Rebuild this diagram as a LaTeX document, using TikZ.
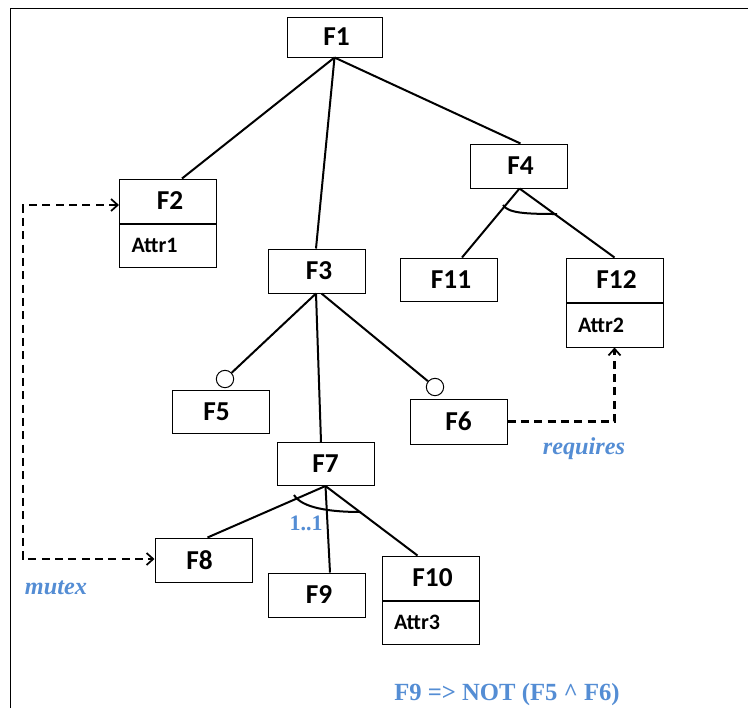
\documentclass[tikz,border=0pt]{standalone}
\usepackage{fontspec}
\setmainfont{Carlito}
\newfontfamily\tnr{Liberation Serif}
\usetikzlibrary{arrows.meta,calc}
\definecolor{lblue}{HTML}{548DD4}
\begin{document}
\begin{tikzpicture}[x=0.75pt,y=-0.75pt,
  feat/.style={draw,line width=0.75pt,minimum width=72.75pt,minimum height=33pt,inner sep=0pt,font=\fontsize{20.5}{21}\selectfont\bfseries},
  attr/.style={draw,line width=0.75pt,minimum width=72.75pt,minimum height=32.5pt,inner sep=0pt,text width=54.75pt,align=left,font=\fontsize{16.5}{17}\selectfont\bfseries,anchor=north},
  edge/.style={line width=1.5pt},
  dep/.style={line width=1.8pt,dash pattern=on 6pt off 4pt},
  barb/.tip={Straight Barb[length=5pt,width=9pt,line width=1.3pt]},
  lbl/.style={text=lblue,font=\tnr\fontsize{18.2}{20}\selectfont\bfseries\itshape,anchor=base,inner sep=0pt},
  opt/.style={circle,draw,line width=0.75pt,minimum size=13pt,inner sep=0pt,fill=white}
]
\useasboundingbox (0,0) rectangle (748,708);
% frame
\draw[line width=0.75pt] (10.5,708) -- (10.5,8) -- (748,8);

% features
\node[feat,minimum width=71.25pt,minimum height=30pt] (F1) at (334.5,37) {\hspace{3pt}F1};
\node[feat] (F2) at (168,201) {\hspace{3pt}F2};
\node[attr] (F2a) at (F2.south) {Attr1};
\node[feat] (F3) at (317,271) {\hspace{3pt}F3};
\node[feat] (F4) at (518.5,166) {\hspace{3pt}F4};
\node[feat,minimum height=32.25pt] (F11) at (449,279.5) {\hspace{3pt}F11};
\node[feat] (F12) at (614.5,280) {\hspace{3pt}F12};
\node[attr,minimum height=33pt] (F12a) at (F12.south) {Attr2};
\node[feat,minimum height=32.25pt] (F5) at (220.5,412) {\hspace{-6pt}F5};
\node[feat,minimum height=33.75pt] (F6) at (458.5,421.5) {F6};
\node[feat,minimum height=32.25pt] (F7) at (325.5,464) {F7};
\node[feat] (F8) at (203.5,560) {\hspace{-6pt}F8};
\node[feat] (F9) at (317,595) {\hspace{3pt}F9};
\node[feat] (F10) at (430.5,578) {\hspace{3pt}F10};
\node[attr,minimum height=32.25pt] (F10a) at (F10.south) {Attr3};

% optional markers
\node[opt] (O5) at ($(F5.north)+(4.5,-11)$) {};
\node[opt] (O6) at ($(F6.north)+(-23.5,-11.5)$) {};

% tree edges
\draw[edge] (F1.south) -- ($(F2.north)+(14,0)$);
\draw[edge] (F1.south) -- ($(F3.north)+(-1,0)$);
\draw[edge] (F1.south) -- ($(F4.north)+(2,0)$);
\draw[edge] ($(F4.south)+(1,0)$) -- ($(F11.north)+(13,0)$);
\draw[edge] ($(F4.south)+(1,0)$) -- (F12.north);
\draw[line width=1.5pt] (503,205) .. controls (508,213) and (525,214) .. (557,214);

\draw[edge] ($(F3.south)+(-1,0)$) -- (O5);
\draw[edge] ($(F3.south)+(4.5,0)$) -- (O6);
\draw[edge] ($(F3.south)+(-1,0)$) -- ($(F7.north)+(-4.5,0)$);

\draw[edge] (F7.south) -- ($(F8.north)+(4,0)$);
\draw[edge] (F7.south) -- ($(F9.north)+(13,0)$);
\draw[edge] (F7.south) -- ($(F10.north)+(-13,0)$);
\draw[line width=1.5pt] (294,495) .. controls (302,508) and (330,512) .. (361,512);
\node[lbl,font=\tnr\fontsize{16.5}{17}\selectfont\bfseries] (card) at (306,530) {1..1};

% cross-tree constraints
\coordinate (m1) at (23,205);
\coordinate (m2) at (23,559);
\draw[dep,barb-barb] (F2.west |- m1) -- (m1) -- (m2) -- (F8.west |- m2);
\node[lbl] (mutex) at (56,594) {mutex};
\draw[dep,-barb] (F6.east) -| (F12a.south);
\node[lbl] (req) at (584,454) {requires};

\node[lbl,font=\tnr\fontsize{18.5}{20}\selectfont\bfseries] (formula) at (507,700) {F9 => NOT (F5 \^{} F6)};
\end{tikzpicture}
\end{document}
